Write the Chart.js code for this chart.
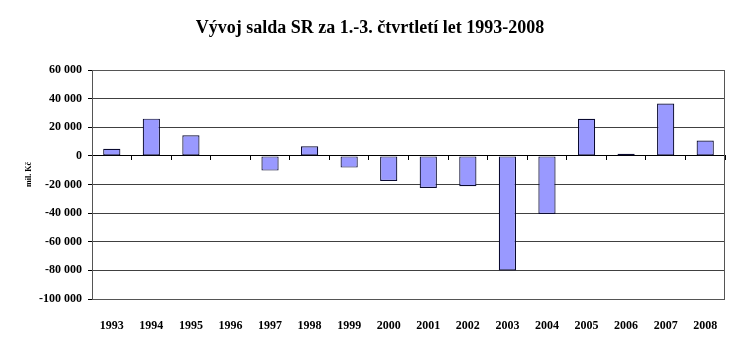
<!DOCTYPE html>
<html>
<head>
<meta charset="utf-8">
<title>Vývoj salda SR</title>
<script src="https://cdn.jsdelivr.net/npm/chart.js@4"></script>
<style>
  html, body { margin: 0; padding: 0; background: #ffffff; }
  #wrap { width: 740px; height: 343px; }
</style>
</head>
<body>
<div id="wrap"><canvas id="saldoChart" width="740" height="343"></canvas></div>
<script>
// Saldo státního rozpočtu za 1.-3. čtvrtletí (mil. Kč)
const years = ['1993', '1994', '1995', '1996', '1997', '1998', '1999', '2000',
               '2001', '2002', '2003', '2004', '2005', '2006', '2007', '2008'];
const saldo = [4900, 26000, 14400, 0, -10300, 6700, -8200, -17500,
               -22400, -21200, -80000, -40600, 25900, 1400, 36600, 10700];

const yMin = -100000;
const yMax = 60000;
const yStep = 20000;
const unitLabel = 'mil. Kč';

const serif = '"Liberation Serif", "Times New Roman", serif';

// "60 000" style thousands separator
function formatThousands(v) {
    let s = String(Math.abs(v)).replace(/\B(?=(\d{3})+(?!\d))/g, ' ');
    return (v < 0 ? '-' : '') + s;
}

// Frame round the plot area
const plotFrame = {
    id: 'plotFrame',
    afterDatasetsDraw(chart) {
        const a = chart.chartArea;
        const ctx = chart.ctx;
        ctx.save();
        ctx.strokeStyle = '#555555';
        ctx.lineWidth = 1;
        ctx.strokeRect(Math.round(a.left) + 0.5, Math.round(a.top) + 0.5,
                       Math.round(a.right - a.left) - 1, Math.round(a.bottom - a.top));
        ctx.restore();
    }
};

// Unit caption left of the value axis, a little above its middle
const unitCaption = {
    id: 'unitCaption',
    afterDraw(chart) {
        const a = chart.chartArea;
        const ctx = chart.ctx;
        ctx.save();
        ctx.translate(29, (a.top + a.bottom) / 2 - 10);
        ctx.rotate(-Math.PI / 2);
        ctx.font = 'bold 8px ' + serif;
        ctx.fillStyle = '#000000';
        ctx.textAlign = 'center';
        ctx.textBaseline = 'middle';
        ctx.fillText(unitLabel, 0, 0);
        ctx.restore();
    }
};

let ctx = document.getElementById('saldoChart').getContext('2d');
let saldoChart = new Chart(ctx, {
    type: 'bar',
    data: {
        labels: years,
        datasets: [{
            data: saldo,
            backgroundColor: '#9999ff',
            borderColor: '#0a0a30',
            borderWidth: (c) => (c.raw === 0 ? 0 : 1.2),
            borderSkipped: false,
            barPercentage: 0.435,
            categoryPercentage: 1
        }]
    },
    options: {
        responsive: false,
        animation: false,
        layout: { padding: 0 },
        plugins: {
            legend: { display: false },
            tooltip: { enabled: false },
            title: {
                display: true,
                text: 'Vývoj salda SR za 1.-3. čtvrtletí let 1993-2008',
                color: '#000000',
                font: { family: serif, size: 18, weight: 'bold' },
                padding: { top: 18, bottom: 30.4 }
            }
        },
        scales: {
            x: {
                type: 'category',
                offset: true,
                grid: { display: false, offset: true },
                border: { display: false },
                ticks: {
                    color: '#000000',
                    padding: 12,
                    maxRotation: 0,
                    autoSkip: false,
                    font: { family: serif, size: 12, weight: 'bold' }
                },
                afterFit(scale) { scale.height = 44; }
            },
            // axis line with tick marks across the zero value
            x2: {
                type: 'category',
                position: { y: 0 },
                offset: true,
                grid: {
                    offset: true,
                    drawOnChartArea: false,
                    drawTicks: true,
                    tickLength: 4,
                    tickColor: '#000000'
                },
                border: { display: true, color: '#000000', width: 1 },
                ticks: { display: false }
            },
            y: {
                min: yMin,
                max: yMax,
                ticks: {
                    stepSize: yStep,
                    color: '#000000',
                    padding: 6,
                    font: { family: serif, size: 12, weight: 'bold' },
                    callback: (v) => formatThousands(v)
                },
                grid: {
                    color: '#404040',
                    lineWidth: 1,
                    drawTicks: true,
                    tickLength: 4,
                    tickColor: '#000000'
                },
                border: { display: true, color: '#000000', width: 1 },
                afterFit(scale) { scale.width = 92; }
            },
            // empty right-hand margin so the title stays centred on the page
            yMargin: {
                position: 'right',
                min: yMin,
                max: yMax,
                grid: { display: false },
                border: { display: false },
                ticks: { display: false },
                afterFit(scale) { scale.width = 15; }
            }
        }
    },
    plugins: [plotFrame, unitCaption]
});
</script>
</body>
</html>
